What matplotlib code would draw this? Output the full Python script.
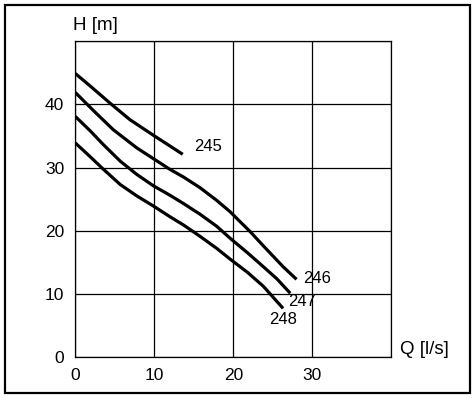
import numpy as np
import matplotlib
matplotlib.use("Agg")
import matplotlib.pyplot as plt
from matplotlib.patches import Rectangle

plt.rcParams['font.family'] = ['Liberation Sans', 'DejaVu Sans']

# pump curves, Q [l/s] vs H [m]
q_245 = [0, 1.9, 4.4, 6.9, 9.9, 12.0, 13.6]
h_245 = [44.9, 42.9, 40.2, 37.6, 35.1, 33.4, 32.1]

q_246 = [0, 2.4, 4.8, 7.8, 9.9, 12.0, 13.7, 15.8, 17.9, 19.6, 20.8, 22.1, 23.8, 26.3, 28.0]
h_246 = [41.9, 38.9, 36.0, 33.1, 31.4, 29.7, 28.5, 26.8, 24.8, 23.0, 21.5, 19.9, 17.6, 14.3, 12.3]

q_247 = [0, 1.9, 3.5, 5.7, 7.8, 9.9, 12.0, 13.7, 15.8, 17.9, 19.6, 21.8, 23.8, 25.5, 27.2]
h_247 = [38.1, 35.8, 33.7, 31.0, 28.9, 27.1, 25.6, 24.3, 22.6, 20.7, 18.8, 16.5, 14.3, 12.4, 10.1]

q_248 = [0, 1.9, 3.5, 5.7, 7.8, 9.9, 12.0, 13.7, 15.8, 17.9, 19.6, 21.8, 23.8, 26.3]
h_248 = [33.9, 31.7, 29.8, 27.3, 25.5, 23.9, 22.2, 20.9, 19.1, 17.2, 15.5, 13.4, 11.2, 7.7]

curves = [(q_245, h_245), (q_246, h_246), (q_247, h_247), (q_248, h_248)]
labels = ["245", "246", "247", "248"]
label_pos = [(15.0, 33.3), (28.8, 12.5), (26.9, 8.8), (24.5, 5.9)]

x_ticks = [0, 10, 20, 30]
y_ticks = [0, 10, 20, 30, 40]

fig = plt.figure(figsize=(4.74, 3.98), dpi=100)
ax = fig.add_axes([0.1589, 0.1030, 0.6667, 0.7932])

for q, h in curves:
    ax.plot(q, h, color='black', lw=2.3, solid_capstyle='butt', solid_joinstyle='round')

for lab, (x, y) in zip(labels, label_pos):
    ax.text(x, y, lab, fontsize=12, ha='left', va='center')

ax.set_xlim(0, 40)
ax.set_ylim(0, 50)
ax.set_xticks(x_ticks + [40])
ax.set_xticklabels([str(t) for t in x_ticks] + [""])
ax.set_yticks(y_ticks + [50])
ax.set_yticklabels([str(t) for t in y_ticks] + [""])
ax.grid(True, color='black', lw=0.9)
ax.tick_params(length=0, labelsize=12.5)
ax.tick_params(axis='x', pad=8)
ax.tick_params(axis='y', pad=8)
for s in ax.spines.values():
    s.set_linewidth(0.9)

fig.text(72.7 / 474, 1 - 25.7 / 398, "H [m]", fontsize=13.5, ha='left', va='center')
fig.text(400 / 474, 1 - 350 / 398, "Q [l/s]", fontsize=13.5, ha='left', va='center')

fig.patches.append(Rectangle((5 / 474, 1 - 392.5 / 398), 465 / 474, 387.5 / 398,
                             transform=fig.transFigure, fill=False,
                             edgecolor='black', lw=1.6))

fig.savefig("out.png", dpi=100)
